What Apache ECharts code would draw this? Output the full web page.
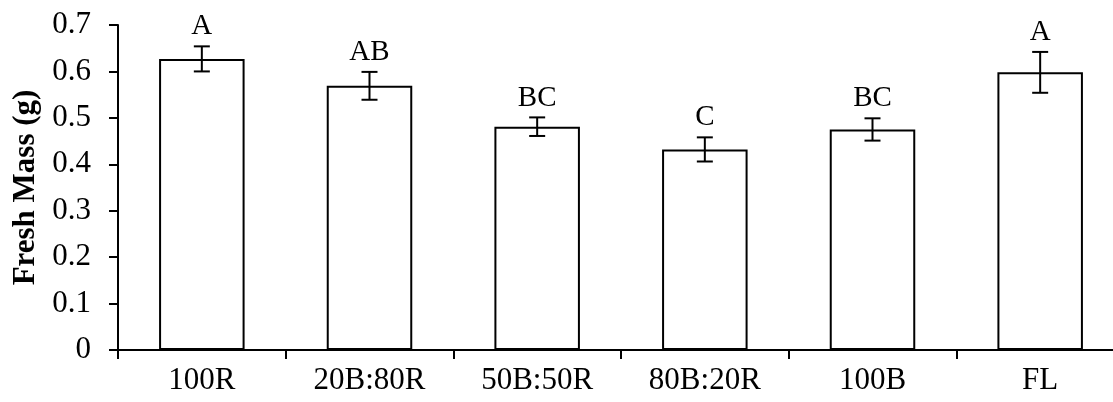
<!DOCTYPE html>
<html>
<head>
<meta charset="utf-8">
<script src="https://cdn.jsdelivr.net/npm/echarts@6/dist/echarts.min.js"></script>
<style>
  html, body { margin: 0; padding: 0; background: #fff; }
  #chart { width: 1113px; height: 402px; }
</style>
</head>
<body>
<div id="chart"></div>
<script>
// Treatments (light spectra) and mean fresh mass per plant, with standard error
const categories = ['100R', '20B:80R', '50B:50R', '80B:20R', '100B', 'FL'];
const freshMass = [0.627, 0.569, 0.481, 0.432, 0.475, 0.598];
const stdError = [0.027, 0.030, 0.020, 0.026, 0.024, 0.044];
const groupLetters = ['A', 'AB', 'BC', 'C', 'BC', 'A'];
const yTicks = { min: 0, max: 0.7, interval: 0.1 };

const FONT = '"Liberation Serif", "DejaVu Serif", serif';

const chart = echarts.init(document.getElementById('chart'), null, { renderer: 'canvas' });

chart.setOption({
  animation: false,
  backgroundColor: '#fff',
  grid: { left: 118, right: -11, top: 25, bottom: 52, containLabel: false, outerBoundsMode: 'none' },
  xAxis: {
    type: 'category',
    data: categories,
    boundaryGap: true,
    axisLine: { lineStyle: { color: '#000', width: 2 } },
    axisTick: { show: true, length: 9, lineStyle: { color: '#000', width: 2 } },
    axisLabel: { color: '#000', fontFamily: FONT, fontSize: 31, margin: 15 },
    splitLine: { show: false }
  },
  yAxis: {
    type: 'value',
    min: yTicks.min,
    max: yTicks.max,
    interval: yTicks.interval,
    name: 'Fresh Mass (g)',
    nameLocation: 'middle',
    nameGap: 75,
    nameTextStyle: { color: '#000', fontFamily: FONT, fontSize: 31, fontWeight: 'bold' },
    axisLine: { show: true, lineStyle: { color: '#000', width: 2 } },
    axisTick: { show: true, length: 9, lineStyle: { color: '#000', width: 2 } },
    axisLabel: { color: '#000', fontFamily: FONT, fontSize: 31, margin: 27 },
    splitLine: { show: false }
  },
  series: [
    {
      type: 'bar',
      data: freshMass,
      barWidth: '51%',
      itemStyle: { color: '#fff', borderColor: '#000', borderWidth: 2 }
    },
    {
      type: 'custom',
      data: freshMass.map((v, i) => [i, v, stdError[i]]),
      z: 10,
      renderItem(params, api) {
        const i = api.value(0);
        const mean = api.value(1);
        const err = api.value(2);
        const top = api.coord([i, mean + err]);
        const bot = api.coord([i, mean - err]);
        const cap = 8;
        const stroke = { stroke: '#000', lineWidth: 2 };
        return {
          type: 'group',
          children: [
            { type: 'line', shape: { x1: top[0], y1: top[1], x2: bot[0], y2: bot[1] }, style: stroke },
            { type: 'line', shape: { x1: top[0] - cap, y1: top[1], x2: top[0] + cap, y2: top[1] }, style: stroke },
            { type: 'line', shape: { x1: bot[0] - cap, y1: bot[1], x2: bot[0] + cap, y2: bot[1] }, style: stroke },
            {
              type: 'text',
              style: {
                text: groupLetters[i],
                x: top[0],
                y: top[1] - 5,
                align: 'center',
                verticalAlign: 'bottom',
                fontFamily: FONT,
                fontSize: 29,
                fill: '#000'
              }
            }
          ]
        };
      }
    }
  ]
});
</script>
</body>
</html>
